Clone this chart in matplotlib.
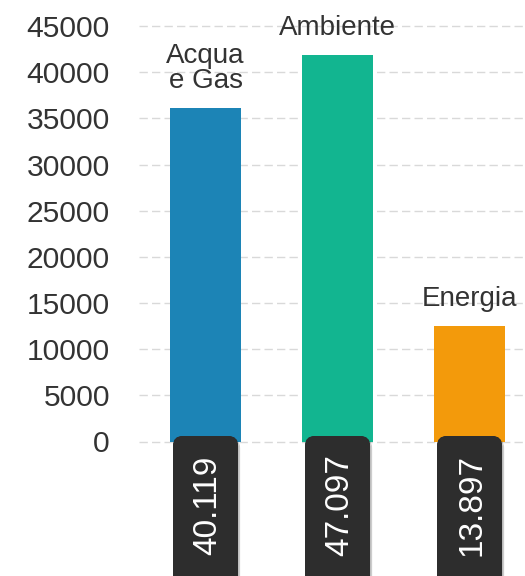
import numpy as np
import matplotlib
matplotlib.use("Agg")
import matplotlib.pyplot as plt
import matplotlib.transforms as mtransforms
import matplotlib.patheffects as pe
from matplotlib.patches import FancyBboxPatch

# data
categories = ["Acqua\ne Gas", "Ambiente", "Energia"]
bar_values = [36100, 41900, 12500]
value_labels = ["40.119", "47.097", "13.897"]
bar_colors = ["#1c84b6", "#12b590", "#f39a0b"]
yticks = [0, 5000, 10000, 15000, 20000, 25000, 30000, 35000, 40000, 45000]

plt.rcParams['font.family'] = ['Liberation Sans', 'DejaVu Sans']
text_color = "#333333"

fig = plt.figure(figsize=(5.25, 5.76), dpi=100)
ax = fig.add_axes([139 / 525, (576 - 441.5) / 576, 1 - 139 / 525, 441.5 / 576])

x = np.arange(len(categories))
ax.bar(x, bar_values, width=0.54, color=bar_colors, zorder=2)

ax.set_xlim(-0.504, 2.42)
ax.set_ylim(0, 47818)
ax.set_yticks(yticks)
ax.set_yticklabels([str(t) for t in yticks])
ax.set_xticks([])
ax.tick_params(axis='y', length=0, pad=21, labelsize=21.6, labelcolor=text_color)
ax.grid(axis='y', color='#d9d9d9', linestyle=(0, (6, 3)), linewidth=1, zorder=0)
ax.set_axisbelow(True)
for gl in ax.get_ygridlines():
    gl.set_clip_on(False)
for s in ax.spines.values():
    s.set_visible(False)

# category names above the bars
for xi, name, v in zip(x, categories, bar_values):
    ax.annotate(name, (xi, v), xytext=(0, 10), textcoords='offset points',
                ha='center', va='bottom', fontsize=20, color=text_color,
                linespacing=0.95)

# dark value tags below the axis
for xi, lab in zip(x, value_labels):
    trans = fig.dpi_scale_trans + mtransforms.ScaledTranslation(xi, 0, ax.transData)
    box = FancyBboxPatch((-0.325, -1.8), 0.65, 1.855,
                         boxstyle="round,pad=0,rounding_size=0.1",
                         transform=trans, facecolor="#2d2d2d", edgecolor='none',
                         clip_on=False, zorder=3)
    box.set_path_effects([pe.withSimplePatchShadow(offset=(1.5, -1.5), shadow_rgbFace='#000000', alpha=0.2),
                          pe.Normal()])
    ax.add_patch(box)
    ax.text(0.02, -0.64, lab, transform=trans, rotation=90, ha='center', va='center',
            fontsize=24, color='white', clip_on=False, zorder=4)

fig.savefig("out.png", dpi=100)
